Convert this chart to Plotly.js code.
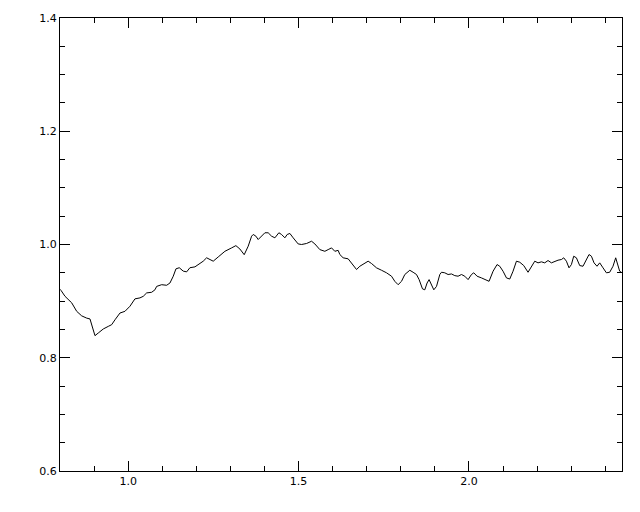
<!DOCTYPE html>
<html>
<head>
<meta charset="utf-8">
<script src="https://cdn.plot.ly/plotly-3.0.1.min.js"></script>
<style>html,body{margin:0;padding:0;background:#fff;}#chart{width:640px;height:512px;}</style>
</head>
<body>
<div id="chart"></div>
<script>
var xVals = [0.800,0.8029,0.8147,0.8243,0.8343,0.8490,0.8636,0.8783,0.8880,0.8959,0.9026,0.9123,0.9270,0.9416,0.9516,0.9613,0.9760,0.9906,1.0053,1.0199,1.0346,1.0443,1.0543,1.0689,1.0786,1.0836,1.0982,1.1129,1.1226,1.1323,1.1402,1.1499,1.1616,1.1716,1.1812,1.1959,1.2056,1.2202,1.2302,1.2399,1.2496,1.2642,1.2839,1.3035,1.3161,1.3279,1.3405,1.3522,1.3622,1.3669,1.3748,1.3815,1.3915,1.4012,1.4108,1.4208,1.4305,1.4422,1.4501,1.4598,1.4666,1.4745,1.4842,1.4988,1.5088,1.5235,1.5381,1.5478,1.5624,1.5771,1.5868,1.5968,1.6064,1.6161,1.6211,1.6308,1.6455,1.6554,1.6651,1.6701,1.6798,1.6944,1.7041,1.7141,1.7287,1.7434,1.7581,1.7727,1.7824,1.7921,1.8021,1.8117,1.8264,1.8361,1.8460,1.8537,1.8636,1.8704,1.8771,1.8830,1.8900,1.8968,1.9047,1.9144,1.9194,1.9290,1.9387,1.9487,1.9584,1.9680,1.9780,1.9877,1.9974,2.0073,2.0141,2.0238,2.0367,2.0493,2.0589,2.0707,2.0824,2.0903,2.1000,2.1100,2.1196,2.1293,2.1393,2.1490,2.1607,2.1733,2.1862,2.1930,2.2026,2.2126,2.2223,2.2320,2.2419,2.2516,2.2613,2.2713,2.2780,2.2859,2.2935,2.3006,2.3073,2.3152,2.3249,2.3346,2.3446,2.3522,2.3593,2.3669,2.3757,2.3836,2.3933,2.4032,2.4129,2.4226,2.4305,2.4372,2.4422,2.4472];
var yVals = [0.921,0.919,0.9085,0.9027,0.897,0.882,0.874,0.870,0.8685,0.8525,0.839,0.8437,0.8508,0.8554,0.8584,0.867,0.879,0.882,0.891,0.904,0.9057,0.9085,0.9145,0.9156,0.920,0.926,0.929,0.928,0.932,0.944,0.957,0.959,0.953,0.9517,0.959,0.9605,0.9646,0.9705,0.9765,0.9735,0.9705,0.978,0.988,0.994,0.998,0.992,0.982,0.997,1.0147,1.0177,1.0147,1.0088,1.0147,1.0207,1.0207,1.0147,1.0118,1.0207,1.0177,1.0118,1.0177,1.0195,1.0118,1.001,1.000,1.0018,1.0058,1.001,0.991,0.988,0.991,0.994,0.988,0.9897,0.9823,0.9765,0.9747,0.9676,0.9588,0.9558,0.9616,0.9676,0.9705,0.9664,0.9588,0.9545,0.950,0.944,0.935,0.929,0.935,0.947,0.9545,0.951,0.947,0.938,0.9216,0.920,0.932,0.938,0.929,0.920,0.926,0.947,0.951,0.950,0.947,0.948,0.945,0.944,0.947,0.944,0.938,0.947,0.950,0.944,0.941,0.938,0.935,0.9528,0.9646,0.9616,0.9528,0.941,0.939,0.9528,0.9705,0.9687,0.9628,0.951,0.9628,0.9705,0.9676,0.9694,0.9676,0.9717,0.9676,0.9705,0.9723,0.9735,0.9765,0.9705,0.9588,0.9646,0.9793,0.9765,0.9628,0.9616,0.9735,0.9823,0.9793,0.9676,0.9616,0.9676,0.9588,0.950,0.951,0.9616,0.9765,0.9616,0.9528,0.951];
var xTickVals = [1.0, 1.5, 2.0];
var xTickText = ['1.0', '1.5', '2.0'];
var yTickVals = [0.6, 0.8, 1.0, 1.2, 1.4];
var yTickText = ['0.6', '0.8', '1.0', '1.2', '1.4'];

var trace = {x: xVals, y: yVals, type: 'scatter', mode: 'lines', line: {color: '#000', width: 1}, hoverinfo: 'skip'};
var axisBase = {
  showgrid: false, zeroline: false, showline: true, linecolor: '#000', linewidth: 1,
  mirror: 'allticks', ticks: 'inside', ticklen: 10, tickcolor: '#000', tickwidth: 1,
  tickfont: {family: 'DejaVu Sans, sans-serif', size: 11, color: '#000'}
};
var layout = {
  width: 640, height: 512,
  margin: {l: 60, r: 18, t: 18, b: 41, pad: 0},
  paper_bgcolor: '#fff', plot_bgcolor: '#fff', showlegend: false,
  xaxis: Object.assign({}, axisBase, {range: [0.8, 2.449], tickmode: 'array', tickvals: xTickVals, ticktext: xTickText,
    minor: {dtick: 0.1, tick0: 0, ticks: 'inside', ticklen: 5, tickcolor: '#000', showgrid: false}}),
  yaxis: Object.assign({}, axisBase, {range: [0.6, 1.4], tickmode: 'array', tickvals: yTickVals, ticktext: yTickText,
    minor: {dtick: 0.05, tick0: 0, ticks: 'inside', ticklen: 5, tickcolor: '#000', showgrid: false}})
};
Plotly.newPlot('chart', [trace], layout, {staticPlot: true, displayModeBar: false});
</script>
</body>
</html>
